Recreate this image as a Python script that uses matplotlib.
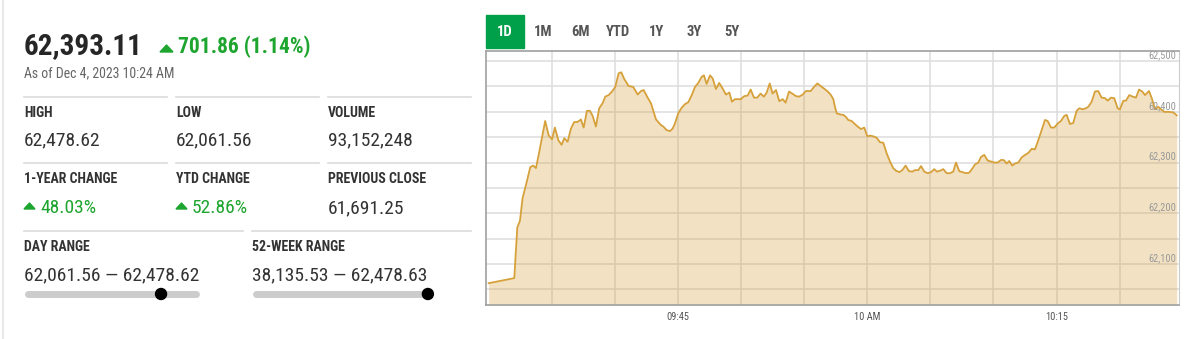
import matplotlib
matplotlib.use("Agg")
import matplotlib.pyplot as plt
from matplotlib import font_manager
from matplotlib.patches import Polygon, Circle, Rectangle

# intraday index level, minutes after 09:30
minutes = [0.00, 2.03, 2.27, 2.48, 2.69, 2.96, 3.30, 3.53, 3.75, 4.01,
           4.48, 4.75, 5.02, 5.25, 5.52, 5.78, 5.99, 6.26, 6.52, 6.78,
           7.05, 7.31, 7.53, 7.79, 8.03, 8.24, 8.50, 8.76, 9.03, 9.24,
           9.51, 9.77, 10.03, 10.30, 10.51, 10.74, 11.09, 11.46, 11.81, 12.07,
           12.28, 12.60, 12.86, 13.26, 13.65, 13.84, 14.10, 14.37, 14.58, 14.76,
           15.02, 15.29, 15.55, 15.82, 16.09, 16.35, 16.61, 16.88, 17.06, 17.27,
           17.54, 17.75, 18.01, 18.27, 18.54, 18.80, 19.07, 19.28, 19.52, 19.78,
           19.99, 20.25, 20.52, 20.76, 21.02, 21.28, 21.55, 21.81, 22.03, 22.27,
           22.50, 22.77, 23.03, 23.30, 23.53, 23.80, 24.06, 24.35, 24.61, 24.88,
           25.14, 25.52, 25.78, 26.04, 26.31, 26.57, 26.83, 27.10, 27.31, 27.44,
           27.58, 27.84, 28.10, 28.31, 28.49, 28.76, 28.97, 29.24, 29.50, 29.76,
           30.00, 30.29, 30.55, 30.74, 31.01, 31.27, 31.54, 31.80, 32.06, 32.27,
           32.54, 32.77, 33.04, 33.30, 33.57, 33.78, 34.04, 34.26, 34.52, 34.79,
           35.05, 35.31, 35.52, 35.78, 36.02, 36.29, 36.55, 36.81, 37.03, 37.29,
           37.56, 37.82, 38.08, 38.35, 38.53, 38.80, 39.01, 39.27, 39.54, 39.80,
           40.06, 40.33, 40.59, 40.81, 41.05, 41.25, 41.49, 41.70, 41.97, 42.23,
           42.50, 42.76, 43.03, 43.29, 43.55, 43.82, 44.08, 44.29, 44.56, 44.82,
           45.09, 45.35, 45.61, 45.80, 46.06, 46.32, 46.59, 46.80, 47.07, 47.33,
           47.51, 47.78, 48.04, 48.30, 48.57, 48.84, 49.05, 49.31, 49.57, 49.84,
           50.02, 50.29, 50.50, 50.76, 51.03, 51.29, 51.53, 51.79, 52.01, 52.32,
           52.54, 52.80, 53.06, 53.27, 53.53, 53.85, 54.25, 54.52]
prices = [62062, 62072, 62172, 62185, 62230, 62256, 62291, 62294, 62289, 62321,
          62382, 62354, 62346, 62369, 62344, 62335, 62348, 62341, 62367, 62380,
          62380, 62385, 62369, 62402, 62402, 62392, 62371, 62407, 62417, 62430,
          62433, 62440, 62449, 62476, 62478, 62465, 62451, 62449, 62434, 62441,
          62443, 62428, 62417, 62385, 62374, 62371, 62364, 62362, 62367, 62377,
          62397, 62408, 62415, 62419, 62433, 62449, 62457, 62469, 62472, 62455,
          62472, 62466, 62445, 62457, 62446, 62434, 62438, 62420, 62425, 62425,
          62425, 62431, 62432, 62444, 62428, 62428, 62436, 62430, 62438, 62456,
          62436, 62443, 62421, 62425, 62418, 62440, 62436, 62431, 62430, 62434,
          62441, 62441, 62449, 62456, 62451, 62446, 62441, 62434, 62425, 62410,
          62397, 62395, 62394, 62390, 62384, 62382, 62377, 62371, 62366, 62369,
          62352, 62353, 62351, 62349, 62340, 62339, 62318, 62302, 62289, 62284,
          62281, 62285, 62294, 62283, 62282, 62285, 62285, 62293, 62282, 62279,
          62281, 62287, 62282, 62284, 62287, 62279, 62279, 62282, 62300, 62283,
          62281, 62279, 62280, 62289, 62296, 62300, 62311, 62315, 62304, 62302,
          62300, 62300, 62305, 62305, 62298, 62303, 62294, 62298, 62300, 62310,
          62315, 62319, 62327, 62326, 62344, 62364, 62384, 62382, 62369, 62369,
          62377, 62382, 62392, 62394, 62376, 62378, 62402, 62407, 62405, 62407,
          62410, 62420, 62440, 62441, 62428, 62427, 62422, 62428, 62427, 62407,
          62405, 62422, 62422, 62433, 62430, 62428, 62444, 62440, 62433, 62441,
          62427, 62405, 62410, 62405, 62400, 62400, 62399, 62393]

last_price = "62,393.11"
change_text = "701.86 (1.14%)"
as_of = "As of Dec 4, 2023 10:24 AM"
stat_labels = ["HIGH", "LOW", "VOLUME", "1-YEAR CHANGE", "YTD CHANGE", "PREVIOUS CLOSE"]
stat_values = ["62,478.62", "62,061.56", "93,152,248", "48.03%", "52.86%", "61,691.25"]
stat_up = [False, False, False, True, True, False]
range_labels = ["DAY RANGE", "52-WEEK RANGE"]
range_lo = [62061.56, 38135.53]
range_hi = [62478.62, 62478.63]
current = 62393.11
tabs = ["1D", "1M", "6M", "YTD", "1Y", "3Y", "5Y"]
x_ticks = [15, 30, 45]
x_labels = ["09:45", "10 AM", "10:15"]
y_labels = [62100, 62200, 62300, 62400, 62500]

names = {f.name for f in font_manager.fontManager.ttflist}
FONT = next(f for f in ["Roboto Condensed", "Liberation Sans Narrow", "Roboto", "DejaVu Sans"] if f in names)
GREEN = "#1ea52f"
DARK = "#262626"
LINE = "#d6a03a"

fig = plt.figure(figsize=(11.96, 3.39), dpi=100)
bg = fig.add_axes([0, 0, 1, 1])
bg.set_xlim(0, 1196)
bg.set_ylim(339, 0)
bg.axis("off")

# left edge line
bg.plot([3, 3], [0, 339], color="#e4e4e4", lw=1.2)

# headline
bg.text(24, 54, last_price, family=FONT, fontsize=21, fontweight="bold", color=DARK)
bg.add_patch(Polygon([[160, 52], [173, 52], [166.5, 45]], color=GREEN))
bg.text(178, 53, change_text, family=FONT, fontsize=15.5, fontweight="bold", color=GREEN)
bg.text(24, 77, as_of, family=FONT, fontsize=10, color="#666666")

# stats grid
cols = [24, 176, 328]
for i, (lab, val, up) in enumerate(zip(stat_labels, stat_values, stat_up)):
    r, c = divmod(i, 3)
    x = cols[c]
    sep = [97, 163][r]
    bg.plot([x, x + 143], [sep, sep], color="#dcdcdc", lw=1.2)
    bg.text(x, [117, 183][r], lab, family=FONT, fontsize=10, fontweight="bold", color="#333333")
    vy = [145, 213][r]
    if up:
        bg.add_patch(Polygon([[x, vy - 4], [x + 11, vy - 4], [x + 5.5, vy - 10]], color=GREEN))
        bg.text(x + 16, vy, val, family=FONT, fontsize=14, color=GREEN)
    else:
        bg.text(x, vy, val, family=FONT, fontsize=14, color="#333333")

# ranges
for x, w, lab, lo, hi in zip([24, 252], [175, 180], range_labels, range_lo, range_hi):
    bg.plot([x, x + 219], [231, 231], color="#dcdcdc", lw=1.2)
    bg.text(x, 251, lab, family=FONT, fontsize=10, fontweight="bold", color="#333333")
    bg.text(x, 280, f"{lo:,.2f} \u2014 {hi:,.2f}", family=FONT, fontsize=14, color="#333333")
    bg.plot([x + 3.5, x + w - 3.5], [294, 294], color="#cccccc", lw=5, solid_capstyle="round")
    frac = (current - lo) / (hi - lo)
    bg.add_patch(Circle((x + 3.5 + frac * (w - 7), 294), 5.5, color="black", zorder=5))

# period tabs
bg.add_patch(Rectangle((486, 15), 38, 33, color="#009f4a"))
for tx, tab in zip([505, 543, 581, 618, 657, 694, 732], tabs):
    bg.text(tx, 36, tab, family=FONT, fontsize=10.5, fontweight="bold", ha="center",
            color="white" if tab == "1D" else "#555555")

# chart
ax = fig.add_axes([486 / 1196, 34 / 339, 693 / 1196, 254 / 339])
ymin, ymax = 62019, 62520
ax.set_xlim(-0.21, 54.7)
ax.set_ylim(ymin, ymax)
for gx in range(5, 55, 5):
    ax.axvline(gx, color="#dddddd", lw=1.1, zorder=0)
for gy in range(62050, 62501, 50):
    ax.axhline(gy, color="#dddddd", lw=1.1, zorder=0)
ax.fill_between(minutes, prices, ymin, color=LINE, alpha=0.3, lw=0, zorder=1)
ax.plot(minutes, prices, color=LINE, lw=1.3, zorder=2)
for v in y_labels:
    ax.text(0.996, v + 6, f"{v:,}", transform=ax.get_yaxis_transform(), ha="right",
            va="baseline", family=FONT, fontsize=7.5, color="#999999")
ax.set_yticks([])
ax.set_xticks(x_ticks, x_labels)
ax.tick_params(axis="x", length=0, pad=5, labelsize=7.5, labelcolor="#555555")
for lab in ax.get_xticklabels():
    lab.set_family(FONT)
for s in ["left", "top", "bottom"]:
    ax.spines[s].set_color("#a0a0a0")
    ax.spines[s].set_linewidth(1.2)
ax.spines["right"].set_color("#cccccc")
ax.spines["right"].set_linewidth(0.8)

fig.savefig("out.png", dpi=100)
